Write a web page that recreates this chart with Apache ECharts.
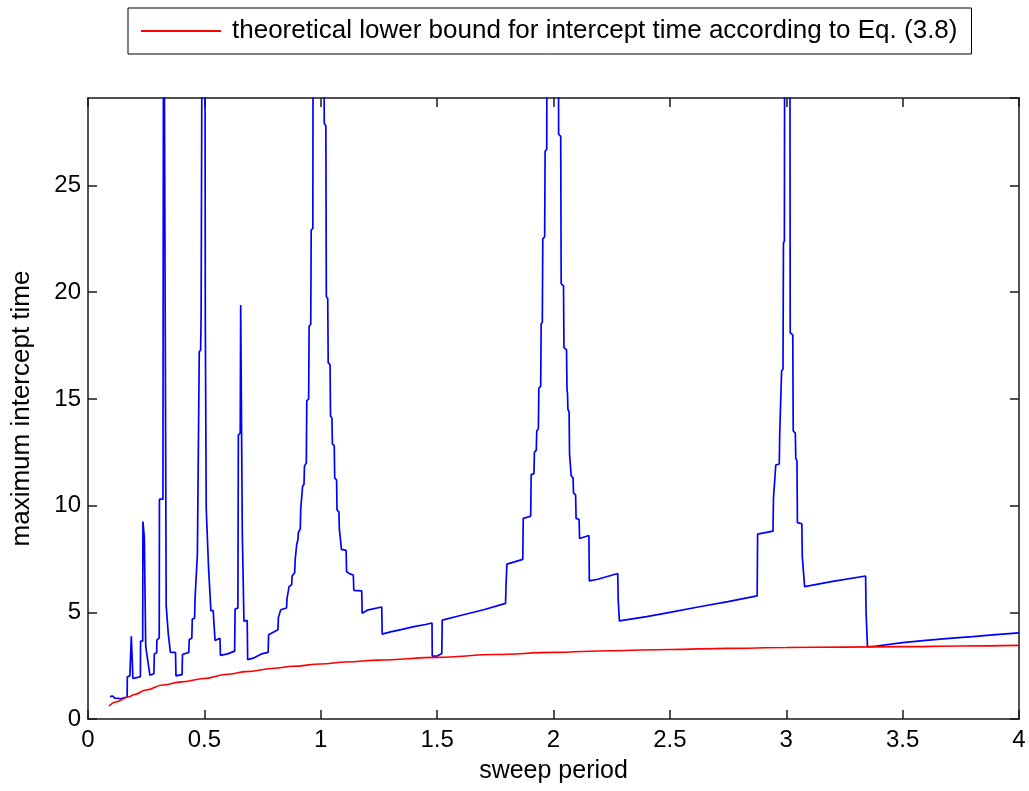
<!DOCTYPE html>
<html>
<head>
<meta charset="utf-8">
<script src="https://cdn.jsdelivr.net/npm/echarts@6/dist/echarts.min.js"></script>
<style>
html,body{margin:0;padding:0;background:#fff;}
#chart{width:1029px;height:791px;}
</style>
</head>
<body>
<div id="chart"></div>
<script>
// Blue curve: maximum intercept time vs sweep period
const sweepPeriod = [
0.095,0.100,0.105,0.115,0.120,0.128,0.133,0.142,0.148,0.158,0.168,0.169,0.180,0.185,0.186,0.192,0.193,0.205,0.225,0.226,
0.235,0.236,0.240,0.242,0.246,0.248,0.256,0.266,0.283,0.285,0.295,0.296,0.306,0.307,0.322,0.325,0.333,0.336,0.343,0.345,
0.352,0.354,0.376,0.378,0.404,0.406,0.433,0.435,0.446,0.448,0.458,0.460,0.468,0.470,0.476,0.478,0.484,0.486,0.490,0.492,
0.502,0.504,0.507,0.508,0.516,0.518,0.526,0.528,0.538,0.540,0.544,0.546,0.567,0.569,0.600,0.630,0.632,0.644,0.646,0.654,
0.656,0.661,0.663,0.668,0.670,0.684,0.686,0.710,0.745,0.774,0.776,0.816,0.818,0.826,0.828,0.853,0.855,0.862,0.864,0.875,
0.877,0.888,0.890,0.895,0.897,0.902,0.904,0.912,0.914,0.920,0.922,0.928,0.930,0.938,0.940,0.948,0.950,0.957,0.959,0.966,
0.968,1.012,1.015,1.022,1.024,1.030,1.032,1.040,1.042,1.048,1.050,1.058,1.060,1.068,1.070,1.078,1.080,1.087,1.089,1.109,
1.111,1.125,1.140,1.142,1.176,1.178,1.200,1.262,1.264,1.300,1.350,1.400,1.450,1.478,1.479,1.500,1.520,1.522,1.600,1.700,
1.794,1.796,1.798,1.800,1.868,1.870,1.902,1.904,1.916,1.918,1.926,1.928,1.935,1.937,1.945,1.947,1.952,1.954,1.962,1.964,
1.971,1.973,2.020,2.022,2.031,2.033,2.043,2.045,2.056,2.058,2.060,2.062,2.067,2.069,2.074,2.076,2.084,2.086,2.095,2.097,
2.110,2.112,2.152,2.154,2.190,2.276,2.278,2.281,2.283,2.400,2.500,2.627,2.750,2.875,2.877,2.943,2.945,2.953,2.955,2.970,
2.972,2.978,2.980,2.986,2.988,2.992,2.994,3.015,3.017,3.028,3.030,3.039,3.041,3.046,3.048,3.067,3.069,3.077,3.079,3.200,
3.341,3.343,3.347,3.349,3.388,3.500,3.600,3.700,3.800,3.900,4.000
];
const maxInterceptTime = [
1.05,1.00,1.08,0.98,1.06,0.97,1.05,0.95,1.04,1.00,1.02,1.98,2.02,2.00,3.88,3.88,1.90,1.93,1.98,3.65,
3.65,9.25,9.25,8.50,8.50,3.40,3.35,2.05,2.12,3.05,3.10,3.70,3.80,10.30,10.30,40,40,5.30,5.30,3.98,
3.98,3.12,3.12,2.02,2.08,3.02,3.12,3.72,3.78,4.68,4.72,5.68,5.72,7.72,7.78,17.2,17.3,18.9,18.9,40,
40,18.8,18.8,9.85,9.85,7.08,7.08,5.08,5.08,4.68,4.68,3.68,3.78,2.98,3.05,3.18,5.15,5.20,13.3,13.4,
19.4,19.4,8.70,8.70,4.58,4.62,2.78,2.85,3.05,3.12,3.95,4.18,4.75,4.80,5.12,5.20,5.65,5.70,6.20,6.30,
6.70,6.85,7.45,7.50,8.20,8.40,8.75,8.90,9.85,9.90,10.9,11.0,11.85,12.0,14.9,15.0,18.4,18.5,22.9,23.0,
40,40,27.9,27.8,19.8,19.7,16.7,16.6,14.2,14.1,12.9,12.8,11.3,11.2,9.8,9.7,8.9,8.85,7.95,7.9,
6.9,6.8,6.75,6.03,6.0,4.96,5.1,5.25,3.98,4.08,4.2,4.33,4.43,4.5,2.95,2.95,3.07,4.63,4.85,5.12,
5.42,6.27,6.3,7.26,7.48,9.4,9.5,11.45,11.5,12.5,12.6,13.5,13.6,15.5,15.6,18.5,18.6,22.5,22.6,26.6,
26.7,40,40,27.4,27.3,20.4,20.3,17.4,17.3,15.4,15.3,14.5,14.4,12.4,12.4,11.4,11.3,10.6,10.5,9.4,
9.35,8.46,8.6,6.47,6.55,6.82,5.6,5.6,4.6,4.8,5.0,5.26,5.5,5.77,8.66,8.8,10.33,10.4,11.9,11.95,
13.4,13.45,16.3,16.4,22.3,22.4,40,40,18.1,18.0,13.5,13.4,12.2,12.1,9.2,9.15,7.6,7.55,6.2,6.45,
6.7,4.98,4.98,3.38,3.42,3.58,3.68,3.78,3.86,3.95,4.04
];
// Red curve: theoretical lower bound
const boundPeriod = [0.09,0.12,0.176,0.2,0.25,0.32,0.4,0.5,0.6,0.68,0.8,0.88,1.0,1.11,1.25,1.5,1.75,2.0,2.25,2.5,2.75,3.0,3.25,3.5,3.75,4.0];
const boundTime   = [0.61,0.80,1.04,1.15,1.36,1.59,1.74,1.90,2.10,2.22,2.38,2.47,2.58,2.67,2.76,2.89,3.02,3.12,3.20,3.26,3.31,3.35,3.37,3.39,3.42,3.45];

const xTicks = {min: 0, max: 4, interval: 0.5};
const yTicks = {min: 0, max: 29.1, interval: 5};
const legendLabel = 'theoretical lower bound for intercept time according to Eq. (3.8)';
const xName = 'sweep period';
const yName = 'maximum intercept time';

const blueData = sweepPeriod.map((x, i) => [x, maxInterceptTime[i]]);
const redData = boundPeriod.map((x, i) => [x, boundTime[i]]);

const FONT = 'Liberation Sans, Arial, Helvetica, sans-serif';
const frame = {show: true, onZero: false, lineStyle: {color: '#1a1a1a', width: 1.5}};
const tickIn = {show: true, inside: true, length: 9, lineStyle: {color: '#1a1a1a', width: 1.5}};

const chart = echarts.init(document.getElementById('chart'), null, {renderer: 'canvas'});
chart.setOption({
  animation: false,
  backgroundColor: '#fff',
  grid: {left: 88, right: 10, top: 98, bottom: 72, containLabel: false},
  legend: {
    left: 128, top: 8,
    data: [{name: legendLabel, icon: 'rect'}],
    itemWidth: 80, itemHeight: 2,
    padding: [10, 14, 10, 13],
    backgroundColor: '#fff', borderColor: '#000', borderWidth: 1,
    textStyle: {fontSize: 26, fontFamily: FONT, color: '#000', padding: [0, 0, 0, 6]}
  },
  xAxis: [{
    type: 'value', min: xTicks.min, max: xTicks.max, interval: xTicks.interval,
    name: xName, nameLocation: 'middle', nameGap: 40,
    nameTextStyle: {fontSize: 25, fontFamily: FONT, color: '#000'},
    axisLine: frame, axisTick: tickIn,
    axisLabel: {fontSize: 24, fontFamily: FONT, color: '#000', margin: 9},
    splitLine: {show: false}
  }, {
    type: 'value', position: 'top', min: xTicks.min, max: xTicks.max, interval: xTicks.interval,
    axisLine: frame, axisTick: tickIn, axisLabel: {show: false}, splitLine: {show: false}
  }],
  yAxis: [{
    type: 'value', min: yTicks.min, max: yTicks.max, interval: yTicks.interval,
    name: yName, nameLocation: 'middle', nameGap: 53,
    nameTextStyle: {fontSize: 26, fontFamily: FONT, color: '#000'},
    axisLine: frame, axisTick: tickIn,
    axisLabel: {fontSize: 24, fontFamily: FONT, color: '#000', margin: 7, showMaxLabel: false,
      formatter: v => (Math.abs(v % 5) < 1e-9 ? String(v) : '')},
    splitLine: {show: false}
  }, {
    type: 'value', position: 'right', min: yTicks.min, max: yTicks.max, interval: yTicks.interval,
    axisLine: frame, axisTick: tickIn, axisLabel: {show: false}, splitLine: {show: false}
  }],
  series: [{
    name: 'maximum intercept time', type: 'line', data: blueData,
    xAxisIndex: 0, yAxisIndex: 0,
    showSymbol: false, symbol: 'none', clip: true,
    lineStyle: {color: '#0000ff', width: 1.7},
    itemStyle: {color: '#0000ff'}
  }, {
    name: legendLabel, type: 'line', data: redData,
    xAxisIndex: 0, yAxisIndex: 0,
    showSymbol: false, symbol: 'none', smooth: 0.4, smoothMonotone: 'x', clip: true,
    lineStyle: {color: '#ff0000', width: 1.6},
    itemStyle: {color: '#ff0000'}
  }]
});
</script>
</body>
</html>
